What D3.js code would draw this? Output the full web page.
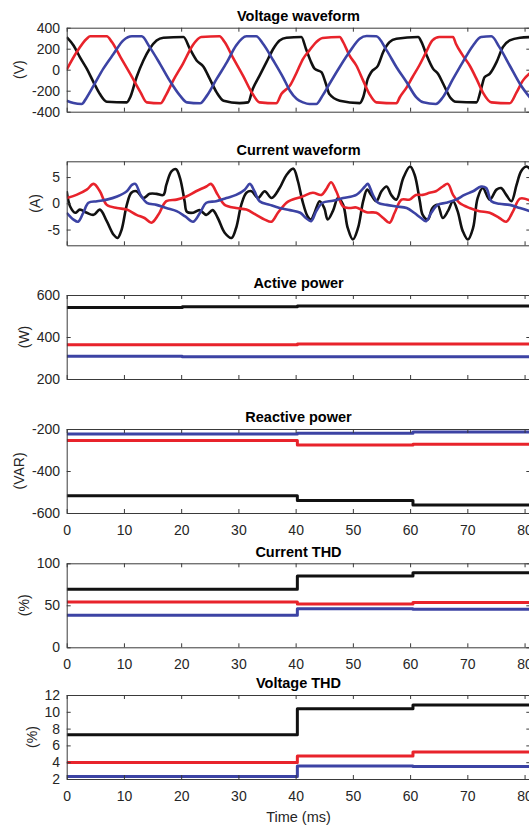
<!DOCTYPE html>
<html>
<head>
<meta charset="utf-8">
<script src="https://cdn.jsdelivr.net/npm/d3@7/dist/d3.min.js"></script>
<style>
html,body{margin:0;padding:0;background:#fff;}
svg{display:block;font-family:"Liberation Sans",Arial,Helvetica,sans-serif;}
</style>
</head>
<body>
<svg id="chart" width="529" height="826"></svg>
<script>
// ---------------- DATA ----------------
const xTicks = [0,10,20,30,40,50,60,70,80];

// Voltage waveform (V) : [time ms, value]
const voltBlack = [[0,311],[1.2,231],[2.3,120],[3.5,10],[4.7,-120],[5.8,-232],[7.0,-305],[10.5,-311],[11.1,-262],[12.2,-72],[13.4,88],[14.5,200],[15.7,279],[16.9,305],[20.4,311],[21.5,200],[22.7,88],[23.9,29],[25.0,-88],[26.2,-216],[27.4,-295],[30.2,-318],[31.7,-311],[32.5,-184],[33.7,-56],[34.9,72],[36.1,200],[37.2,279],[38.4,305],[41.0,311],[41.8,200],[42.7,72],[43.3,10],[44.5,-24],[45.3,-136],[45.9,-232],[47.7,-295],[51.2,-318],[51.8,-262],[52.6,-88],[53.2,-24],[54.4,40],[55.3,168],[56.4,263],[57.6,295],[61.4,311],[62.0,263],[62.9,136],[64.0,10],[64.9,-40],[65.8,-136],[67.0,-264],[68.0,-305],[71.6,-311],[72.4,-184],[73.0,-72],[73.9,-40],[75.1,72],[76.2,215],[77.4,279],[79.2,305],[81,311]];
const voltRed = [[0,0],[1.75,168],[3.5,295],[4.1,318],[7.0,318],[7.9,263],[9.4,120],[11.1,-40],[12.9,-216],[14.0,-311],[16.4,-320],[17.3,-247],[18.6,-104],[20.3,56],[22.0,231],[23.5,311],[26.7,318],[27.6,263],[29.0,120],[30.8,-56],[32.5,-232],[33.7,-311],[36.6,-320],[37.5,-232],[39.0,-152],[40.2,-24],[41.3,104],[42.4,184],[43.6,263],[44.7,302],[47.7,311],[48.3,263],[49.4,136],[50.6,40],[51.8,-104],[52.9,-232],[54.1,-311],[57.6,-320],[58.2,-262],[59.4,-168],[60.4,-72],[61.6,40],[62.8,168],[63.9,279],[65.1,311],[67.5,311],[68.0,247],[69.2,136],[70.4,40],[71.6,-88],[72.7,-216],[74.2,-311],[77.4,-320],[78.6,-216],[79.7,-104],[81,-30]];
const voltBlue = [[0,-295],[1.2,-318],[2.6,-327],[3.5,-264],[4.7,-152],[6.4,10],[8.2,152],[9.9,279],[11.4,318],[13.1,318],[14.5,215],[16.3,56],[18.0,-104],[19.8,-247],[21.0,-311],[23.3,-320],[24.5,-247],[26.2,-88],[28.0,72],[29.6,231],[31.4,318],[33.1,318],[34.3,247],[36.1,88],[37.8,-72],[39.0,-200],[40.2,-279],[41.3,-311],[42.4,-327],[43.6,-327],[44.7,-247],[45.9,-136],[47.7,26],[49.4,168],[51.2,295],[52.4,321],[54.1,318],[55.9,184],[57.6,26],[59.4,-120],[61.1,-264],[62.3,-311],[64.5,-327],[65.7,-264],[67.5,-88],[69.2,72],[71.0,231],[72.4,311],[74.2,318],[75.6,215],[77.4,40],[79.2,-136],[81,-270]];

// Current waveform (A)
const currBlack = [[0,2.3],[0.6,-0.6],[1.5,-1.8],[2.3,-1.2],[3.5,-1.8],[4.7,-2.2],[5.8,-1.2],[7.0,-3.4],[8.2,-6.0],[8.9,-6.6],[9.6,-5.0],[10.5,-0.3],[11.3,2.0],[12.2,2.3],[13.4,1.0],[14.5,1.8],[15.7,1.8],[16.9,1.6],[17.4,3.5],[18.3,6.1],[19.1,6.5],[19.8,4.8],[20.6,0.4],[21.0,-1.6],[22.1,-1.8],[23.2,-1.3],[24.4,-2.2],[25.5,-1.3],[26.4,-2.8],[27.6,-5.6],[28.8,-6.6],[29.6,-4.7],[30.5,-0.3],[31.4,2.0],[32.3,2.3],[33.4,1.0],[34.6,2.3],[35.8,1.0],[37.2,2.9],[38.4,5.4],[39.6,6.6],[40.4,4.2],[41.2,0.4],[42.1,-2.5],[42.7,-3.1],[43.3,-1.8],[44.2,0.4],[45.0,-0.9],[45.6,-3.1],[46.5,-1.5],[47.4,1.0],[48.3,-0.3],[49.1,-4.7],[50.0,-6.9],[50.9,-4.7],[51.8,0.4],[52.5,2.6],[53.2,1.6],[54.1,0.4],[55.0,2.3],[55.9,3.2],[56.7,1.6],[57.6,0.7],[58.8,4.8],[60.0,7.0],[60.8,5.4],[61.7,0.4],[62.2,-2.2],[63.1,-3.1],[63.9,-0.9],[64.8,-0.3],[65.7,-2.8],[66.6,-1.5],[67.5,0.4],[68.3,-1.5],[69.2,-5.3],[70.1,-6.9],[71.0,-4.7],[71.8,1.0],[72.7,2.9],[73.9,0.7],[75.1,2.6],[75.9,2.9],[76.8,1.6],[77.7,0.4],[78.6,3.5],[79.4,6.1],[80.3,7.0],[81,6.5]];
const currRed = [[0,1.0],[1.7,1.6],[3.5,2.6],[4.7,3.7],[5.8,2.3],[7.0,-0.3],[8.8,-0.9],[10.5,-1.2],[12.2,-2.2],[13.6,-2.8],[14.8,-3.7],[16.0,-2.2],[17.4,0.4],[19.2,0.7],[20.9,1.3],[22.6,2.3],[24.4,3.2],[25.2,3.7],[26.4,1.6],[27.6,-0.3],[29.6,-0.9],[31.4,-1.2],[33.1,-2.2],[34.6,-3.1],[35.8,-3.5],[36.9,-1.8],[38.4,0.1],[39.0,0.5],[41.2,1.3],[43.0,2.0],[44.5,1.6],[45.3,2.6],[46.2,4.0],[47.1,2.3],[48.3,-0.6],[49.4,-0.9],[50.6,-0.8],[52.4,-1.7],[54.1,-1.8],[55.3,-2.8],[56.4,-3.7],[57.3,-1.8],[58.5,0.7],[59.9,0.7],[61.0,1.6],[62.2,1.6],[63.4,2.0],[64.5,2.3],[65.7,3.2],[66.6,3.7],[67.5,1.6],[68.6,0.1],[70.4,-0.9],[72.1,-1.5],[73.9,-1.8],[75.6,-2.8],[76.8,-3.5],[78.0,-1.5],[79.2,0.9],[81,0.5]];
const currBlue = [[0,-1.8],[1.2,-3.1],[2.0,-3.5],[2.9,-1.8],[3.8,0.1],[5.3,0.4],[7.0,0.7],[8.8,1.3],[10.5,2.3],[11.4,3.5],[12.0,3.7],[12.9,1.6],[14.0,0.1],[15.7,-0.3],[17.4,-0.9],[19.2,-1.5],[20.7,-2.5],[22.1,-3.5],[23.3,-1.8],[24.4,0.1],[26.1,0.4],[27.9,1.0],[29.6,1.6],[31.1,2.6],[32.0,3.7],[32.8,2.3],[33.7,0.4],[35.5,-0.3],[37.2,-0.9],[39.0,-1.3],[40.8,-1.8],[41.8,-2.8],[42.7,-3.4],[43.6,-1.5],[44.7,0.1],[46.5,0.5],[48.3,1.0],[50.6,1.6],[52.1,3.2],[52.6,3.7],[53.5,1.6],[54.4,0.1],[55.9,-0.3],[57.6,-0.6],[59.4,-0.9],[60.7,-1.8],[61.9,-2.8],[62.8,-3.4],[63.7,-1.8],[64.8,-0.3],[66.3,0.1],[68.0,0.7],[69.5,1.6],[71.0,2.3],[72.4,3.2],[73.3,2.9],[74.2,0.4],[75.6,-0.1],[77.4,-0.3],[79.2,-0.9],[81,-1.5]];

// Step series: segment start times (ms) and per-segment values
const stepTimes = [0, 20.2, 40.3, 60.5, 81];
const activeBlack = [540, 544, 548, 548];
const activeRed   = [363, 363, 367, 367];
const activeBlue  = [308, 306, 306, 306];
const reactBlack = [-518, -518, -540, -562];
const reactRed   = [-255, -255, -276, -273];
const reactBlue  = [-224, -224, -220, -214];
const ithdBlack = [69.2, 69.2, 84.8, 88.8];
const ithdRed   = [53.9, 53.9, 51.5, 53.2];
const ithdBlue  = [38.3, 38.3, 46.0, 45.2];
const vthdBlack = [7.26, 7.26, 10.35, 10.8];
const vthdRed   = [3.96, 3.96, 4.75, 5.2];
const vthdBlue  = [2.3, 2.3, 3.56, 3.5];

const titles  = ["Voltage waveform","Current waveform","Active power","Reactive power","Current THD","Voltage THD"];
const ylabels = ["(V)","(A)","(W)","(VAR)","(%)","(%)"];
const yDomains = [[-400,400],[-8,8],[200,600],[-600,-200],[0,100],[2,12]];
const yTicks = [[-400,-200,0,200,400],[-5,0,5],[200,400,600],[-600,-400,-200],[0,50,100],[2,4,6,8,10,12]];

// ---------------- LAYOUT / STYLE ----------------
const colors = ["#111111","#e8232b","#3c43a4"];
const left = 66.7, right = 530.3;
const tops = [27.7, 161.3, 295, 429, 563.3, 695];
const h = 84;
const xMax = 81;
const axisColor = "#3a3a3a", textColor = "#262626";

const svg = d3.select("#chart");
const x = d3.scaleLinear().domain([0, xMax]).range([left, right]);

function toSteps(vals){ return stepTimes.map((t,i)=>[t, vals[Math.min(i, vals.length-1)]]); }

const panels = [
  {series:[voltBlack, voltRed, voltBlue], kind:"wave", curve:d3.curveMonotoneX, lw:2.6, xlabels:false},
  {series:[currBlack, currRed, currBlue], kind:"wave", curve:d3.curveCatmullRom.alpha(0.5), lw:2.6, xlabels:false},
  {series:[activeBlack, activeRed, activeBlue].map(toSteps), kind:"step", curve:d3.curveStepAfter, lw:3, xlabels:false},
  {series:[reactBlack, reactRed, reactBlue].map(toSteps), kind:"step", curve:d3.curveStepAfter, lw:3, xlabels:true},
  {series:[ithdBlack, ithdRed, ithdBlue].map(toSteps), kind:"step", curve:d3.curveStepAfter, lw:3, xlabels:true},
  {series:[vthdBlack, vthdRed, vthdBlue].map(toSteps), kind:"step", curve:d3.curveStepAfter, lw:3, xlabels:true}
];

panels.forEach((p, i) => {
  const top = tops[i], bottom = top + h;
  const y = d3.scaleLinear().domain(yDomains[i]).range([bottom, top]);
  const g = svg.append("g");

  const clipId = "clip" + i;
  svg.append("defs").append("clipPath").attr("id", clipId)
    .append("rect").attr("x", left).attr("y", top - 1).attr("width", right - left).attr("height", h + 2);

  // data lines
  const line = d3.line().x(d => x(d[0])).y(d => y(d[1])).curve(p.curve);
  const lg = g.append("g").attr("clip-path", `url(#${clipId})`);
  p.series.forEach((s, k) => {
    lg.append("path").datum(s).attr("d", line)
      .attr("fill", "none").attr("stroke", colors[k]).attr("stroke-width", p.lw)
      .attr("stroke-linejoin", "round").attr("stroke-linecap", "butt");
  });

  // axes
  const xb = d3.axisBottom(x).tickValues(xTicks).tickSizeInner(-4).tickSizeOuter(0).tickPadding(12)
    .tickFormat(p.xlabels ? d3.format("d") : () => "");
  const xt = d3.axisTop(x).tickValues(xTicks).tickSizeInner(-4).tickSizeOuter(0).tickFormat(() => "");
  const yl = d3.axisLeft(y).tickValues(yTicks[i]).tickSizeInner(-4).tickSizeOuter(0).tickPadding(6.7)
    .tickFormat(d => d < 0 ? "-" + Math.abs(d) : String(d));
  const yr = d3.axisRight(y).tickValues(yTicks[i]).tickSizeInner(-4).tickSizeOuter(0).tickFormat(() => "");

  const gxb = g.append("g").attr("transform", `translate(0,${bottom})`).call(xb);
  const gxt = g.append("g").attr("transform", `translate(0,${top})`).call(xt);
  const gyl = g.append("g").attr("transform", `translate(${left},0)`).call(yl);
  const gyr = g.append("g").attr("transform", `translate(${right},0)`).call(yr);
  [gxb, gxt, gyl, gyr].forEach(a => {
    a.selectAll("path.domain").attr("stroke", axisColor).attr("stroke-width", 1);
    a.selectAll(".tick line").attr("stroke", axisColor).attr("stroke-width", 1);
    a.selectAll("text").attr("fill", textColor).style("font-size", "14px")
      .style("font-family", '"Liberation Sans",Arial,sans-serif');
  });

  // measure tick labels for ylabel position
  let maxW = 0;
  gyl.selectAll("text").each(function(){ maxW = Math.max(maxW, this.getComputedTextLength()); });
  const labelX = left - 6.7 - maxW - 12.5;

  svg.append("text")
    .attr("transform", `translate(${labelX},${(top + bottom) / 2}) rotate(-90)`)
    .attr("text-anchor", "middle").attr("dy", "0.35em")
    .attr("fill", textColor).style("font-size", "14px")
    .text(ylabels[i]);

  svg.append("text")
    .attr("x", (left + right) / 2).attr("y", top - 6.7)
    .attr("text-anchor", "middle").attr("fill", "#000")
    .style("font-size", "14.5px").style("font-weight", "bold")
    .text(titles[i]);

  if (i === panels.length - 1) {
    svg.append("text")
      .attr("x", (left + right) / 2).attr("y", 822)
      .attr("text-anchor", "middle").attr("fill", textColor)
      .style("font-size", "14.5px")
      .text("Time (ms)");
  }
});
</script>
</body>
</html>
